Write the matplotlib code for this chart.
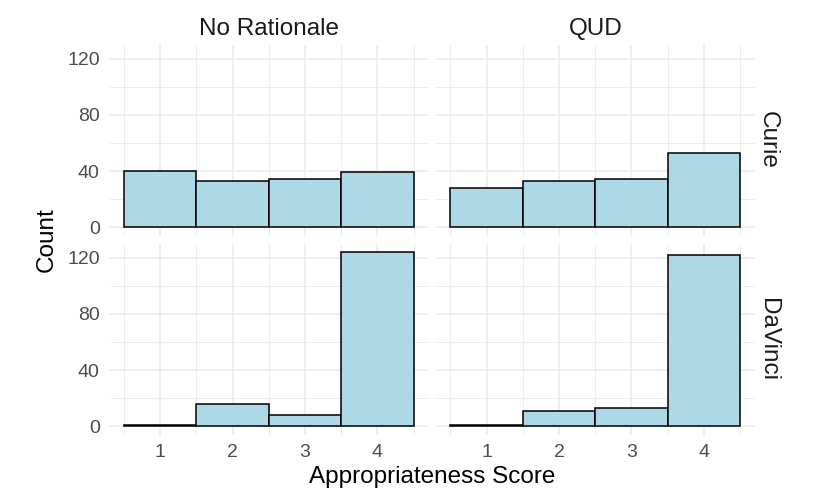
import numpy as np
import matplotlib
matplotlib.use('Agg')
import matplotlib.pyplot as plt

plt.rcParams['font.family'] = ['Liberation Sans', 'DejaVu Sans']

# data (counts per appropriateness score)
scores = [1, 2, 3, 4]
conditions = ['No Rationale', 'QUD']
models = ['Curie', 'DaVinci']
curie_no_rationale = [40, 33, 34, 39]
curie_qud = [28, 33, 34, 53]
davinci_no_rationale = [1, 16, 8, 124]
davinci_qud = [1, 11, 13, 122]

counts = {
    ('Curie', 'No Rationale'): curie_no_rationale,
    ('Curie', 'QUD'): curie_qud,
    ('DaVinci', 'No Rationale'): davinci_no_rationale,
    ('DaVinci', 'QUD'): davinci_qud,
}

W, H = 830, 498
fig = plt.figure(figsize=(W / 100, H / 100), dpi=100)

# panel boxes in pixels (left, top, width, height)
lefts = [109.5, 436.0]
tops = [44.7, 243.7]
pw, ph = 318.5, 191.0

ymax = max(max(v) for v in counts.values())
ylim = (-0.05 * ymax, 1.05 * ymax)

grid_col = '#EBEBEB'
for r, model in enumerate(models):
    for c, cond in enumerate(conditions):
        ax = fig.add_axes([lefts[c] / W, 1 - (tops[r] + ph) / H, pw / W, ph / H])
        ax.set_xlim(0.3, 4.7)
        ax.set_ylim(*ylim)
        for s in ax.spines.values():
            s.set_visible(False)
        # grid
        for x in scores:
            ax.axvline(x, color=grid_col, lw=1.1, zorder=0)
        for x in np.arange(0.5, 4.6, 1.0):
            ax.axvline(x, color=grid_col, lw=0.6, zorder=0)
        for y in [0, 40, 80, 120]:
            ax.axhline(y, color=grid_col, lw=1.1, zorder=0)
        for y in [20, 60, 100]:
            ax.axhline(y, color=grid_col, lw=0.6, zorder=0)
        ax.bar(scores, counts[(model, cond)], width=1.0, color='#ADD8E6',
               edgecolor='black', linewidth=1.1, zorder=2)
        ax.set_yticks([0, 40, 80, 120])
        ax.set_xticks(scores)
        ax.tick_params(length=0, labelsize=14, labelcolor='#4D4D4D', pad=7)
        if c != 0:
            ax.set_yticklabels([])
        if r != len(models) - 1:
            ax.set_xticklabels([])
        if r == 0:
            ax.set_title(cond, fontsize=17.5, color='#1A1A1A', pad=7)
        if c == len(conditions) - 1:
            ax.text(1.0 + 13 / pw, 0.5, model, transform=ax.transAxes,
                    rotation=-90, ha='center', va='center',
                    fontsize=17.5, color='#1A1A1A')

fig.text((lefts[0] + lefts[1] + pw) / 2 / W, 1 - 477 / H, 'Appropriateness Score',
         ha='center', va='center', fontsize=17.5)
fig.text(47 / W, 1 - 239.7 / H, 'Count', rotation=90,
         ha='center', va='center', fontsize=17.5)

fig.savefig('out.png', dpi=100, facecolor='white')
